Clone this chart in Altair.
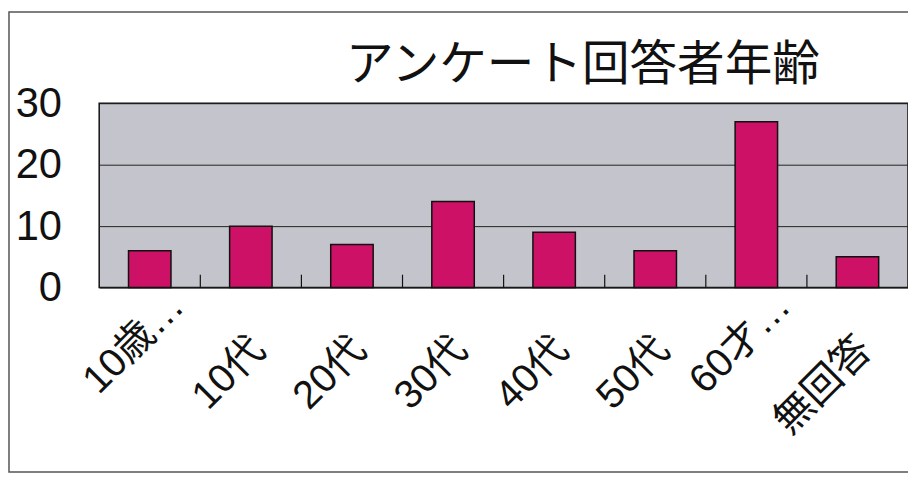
import altair as alt
import pandas as pd

categories = ["10歳…", "10代", "20代", "30代", "40代", "50代", "60才…", "無回答"]
counts = [6, 10, 7, 14, 9, 6, 27, 5]
y_ticks = [0, 10, 20, 30]
title_text = "アンケート回答者年齢"

df = pd.DataFrame({"cat": categories, "n": counts})
frame_df = pd.DataFrame({"a": [0]})

W, H = 816, 186
FONT = "Liberation Sans, Noto Sans CJK JP"

xscale = alt.Scale(domain=categories, paddingInner=0.58, paddingOuter=0.29)
yscale = alt.Scale(domain=[0, 30], nice=False)

frame = alt.Chart(frame_df).mark_rect(
    fillOpacity=0, stroke="#555555", strokeWidth=1.5
).encode(
    x=alt.value(-91), x2=alt.value(W + 20),
    y=alt.value(-92), y2=alt.value(H + 186),
)

bars = alt.Chart(df).mark_bar(
    color="#CC1166", stroke="#111111", strokeWidth=1.5
).encode(
    x=alt.X("cat:N", scale=xscale, sort=categories, title=None,
            axis=alt.Axis(
                labelAngle=-45,
                labelAlign={"condition": {"test": "indexof(datum.label, '…') >= 0", "value": "center"}, "value": "right"},
                labelOffset={"condition": {"test": "indexof(datum.label, '…') >= 0", "value": -16}, "value": 8},
                labelBaseline="middle",
                labelPadding=56,
                labelFontSize=40,
                labelFont=FONT,
                labelColor="#111111",
                ticks=False, domain=False, labelOverlap=False,
            )),
    y=alt.Y("n:Q", scale=yscale, title=None,
            axis=alt.Axis(values=y_ticks, ticks=False, domain=False,
                          labelFontSize=42, labelFont=FONT, labelColor="#111111",
                          labelPadding=38, gridColor="#222222", gridWidth=1)),
)

ticks = alt.Chart(df).transform_filter(
    "datum.cat != '無回答'"
).mark_rule(color="#111111", strokeWidth=1.2, xOffset=29.6).encode(
    x=alt.X("cat:N", scale=xscale, sort=categories, bandPosition=1),
    y=alt.value(H), y2=alt.value(H - 13),
)

chart = alt.layer(frame, bars, ticks).properties(
    width=W, height=H,
    title=alt.TitleParams(title_text, fontSize=48, font="Noto Sans CJK JP",
                          fontWeight="normal", color="#111111", anchor="middle",
                          baseline="bottom",
                          frame="group", dx=80, offset=-127),
    autosize=alt.AutoSizeParams(type="none"),
    padding={"left": 92, "top": 94, "right": 0, "bottom": 188},
    background="white",
).configure_view(
    fill="#C4C4CC", stroke="#111111", strokeWidth=1.5
)

chart.save("out.html", embed_options={"renderer": "svg", "actions": False})
